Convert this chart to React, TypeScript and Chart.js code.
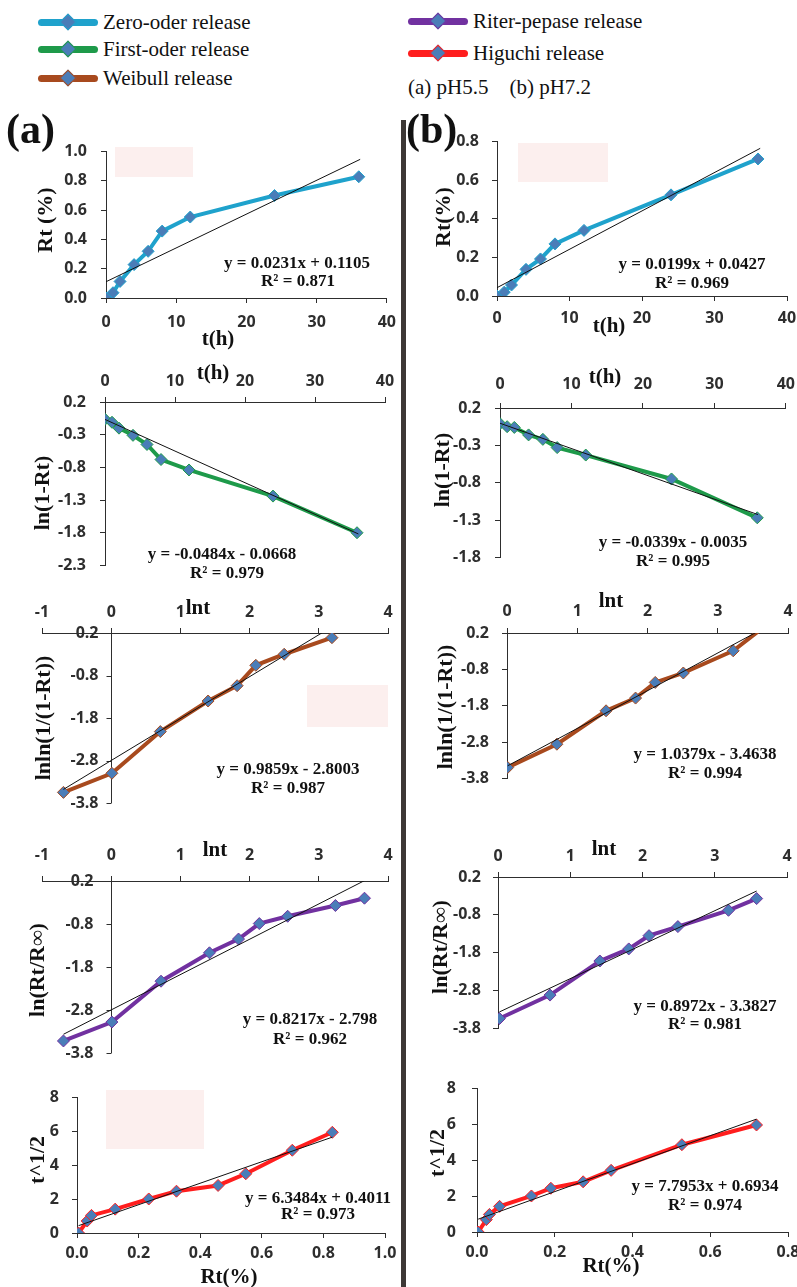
import React, { useEffect, useRef } from 'react';
import { Chart, registerables } from 'chart.js';

Chart.register(...registerables);

const SERIF = '"Liberation Serif", "Times New Roman", serif';
const TICK_FONT = '"Open Sans", "Liberation Sans", sans-serif';

// ---------------- data ----------------
const hours = [0, 1, 2, 4, 6, 8, 12, 24, 36];
const zeroReleaseA = [0, 0.036, 0.113, 0.228, 0.319, 0.457, 0.553, 0.7, 0.828];
const zeroReleaseB = [0, 0.02, 0.057, 0.138, 0.192, 0.27, 0.34, 0.524, 0.71];
const firstOrderA = [-0.064, -0.11, -0.2, -0.31, -0.45, -0.68, -0.84, -1.24, -1.8];
const firstOrderB = [-0.01, -0.05, -0.06, -0.16, -0.22, -0.33, -0.43, -0.75, -1.27];

const weibullLntA = [-0.69, 0.01, 0.71, 1.4, 1.82, 2.09, 2.5, 3.19];
const weibullA = [-3.55, -3.1, -2.12, -1.4, -1.04, -0.56, -0.3, 0.09];
const weibullLntB = [0.01, 0.71, 1.41, 1.83, 2.11, 2.51, 3.22, 3.58];
const weibullB = [-3.5, -2.86, -1.94, -1.59, -1.16, -0.9, -0.29, 0.25];
const weibullRadiusB = [6, 6, 6, 6, 6, 6, 6, 0];

const riterLntA = [-0.69, 0.01, 0.72, 1.42, 1.84, 2.14, 2.55, 3.24, 3.66];
const riterA = [-3.52, -3.08, -2.13, -1.47, -1.15, -0.79, -0.62, -0.37, -0.2];
const riterLntB = [0.02, 0.72, 1.41, 1.81, 2.09, 2.49, 3.19, 3.58];
const riterB = [-3.54, -2.92, -2.02, -1.7, -1.35, -1.11, -0.68, -0.37];

const higuchiRtA = [0.005, 0.033, 0.047, 0.124, 0.233, 0.323, 0.458, 0.548, 0.699, 0.829];
const higuchiA = [0, 0.71, 1.04, 1.41, 2.01, 2.47, 2.81, 3.5, 4.89, 5.95];
const higuchiRtB = [0.003, 0.024, 0.032, 0.058, 0.14, 0.19, 0.273, 0.345, 0.527, 0.719];
const higuchiB = [0, 0.69, 0.98, 1.43, 2.01, 2.44, 2.8, 3.44, 4.87, 5.97];

// linear trend lines (end points)
const trendZeroAX = [0, 36.2];
const trendZeroAY = [0.111, 0.947];
const trendZeroBX = [0, 36.3];
const trendZeroBY = [0.043, 0.765];
const trendFirstAX = [0, 36.2];
const trendFirstAY = [-0.067, -1.819];
const trendFirstBX = [0, 36.1];
const trendFirstBY = [-0.004, -1.227];
const trendWeibullAX = [-0.69, 3.58];
const trendWeibullAY = [-3.48, 0.73];
const trendWeibullBX = [0.01, 3.58];
const trendWeibullBY = [-3.453, 0.252];
const trendRiterAX = [-0.69, 3.66];
const trendRiterAY = [-3.365, 0.209];
const trendRiterBX = [0.02, 3.58];
const trendRiterBY = [-3.365, -0.171];
const trendHiguchiAX = [0.005, 0.829];
const trendHiguchiAY = [0.433, 5.664];
const trendHiguchiBX = [0.003, 0.719];
const trendHiguchiBY = [0.717, 6.298];

// tick labels
const ticksTime = [0, 10, 20, 30, 40];
const ticksRtA = [0, 0.2, 0.4, 0.6, 0.8, 1.0];
const ticksRtB = [0, 0.2, 0.4, 0.6, 0.8];
const ticksFirstA = [-2.3, -1.8, -1.3, -0.8, -0.3, 0.2];
const ticksFirstB = [-1.8, -1.3, -0.8, -0.3, 0.2];
const ticksLnY = [-3.8, -2.8, -1.8, -0.8, 0.2];
const ticksLntA = [-1, 0, 1, 2, 3, 4];
const ticksLntB = [0, 1, 2, 3, 4];
const ticksHigY = [0, 2, 4, 6, 8];
const ticksHigXA = [0, 0.2, 0.4, 0.6, 0.8, 1.0];
const ticksHigXB = [0, 0.2, 0.4, 0.6, 0.8];

const COLORS = {
  zero: '#1FA2CC',
  first: '#1E9A4A',
  weibull: '#A84A1E',
  riter: '#7131A0',
  higuchi: '#FF1E1E',
};
const MARKER_FILL = '#4A7DB8';

type Spec = {
  area: [number, number, number, number];
  xs: number[];
  ys: number[];
  radii?: number[];
  tx: number[];
  ty: number[];
  color: string;
  xTicks: number[];
  yTicks: number[];
  xDec: number;
  yDec: number;
  xTop: boolean;
  xPad: number;
  yGap: number;
  cross: boolean;
};

const specs: Spec[] = [
  { area: [106, 142, 388, 298], xs: hours, ys: zeroReleaseA, tx: trendZeroAX, ty: trendZeroAY, color: COLORS.zero,
    xTicks: ticksTime, yTicks: ticksRtA, xDec: 0, yDec: 1, xTop: false, xPad: 10, yGap: 19, cross: false },
  { area: [105, 402, 385, 575], xs: hours, ys: firstOrderA, tx: trendFirstAX, ty: trendFirstAY, color: COLORS.first,
    xTicks: ticksTime, yTicks: ticksFirstA, xDec: 0, yDec: 1, xTop: true, xPad: 6, yGap: 19, cross: false },
  { area: [42, 633, 388, 803], xs: weibullLntA, ys: weibullA, tx: trendWeibullAX, ty: trendWeibullAY, color: COLORS.weibull,
    xTicks: ticksLntA, yTicks: ticksLnY, xDec: 0, yDec: 1, xTop: true, xPad: 6, yGap: 13, cross: true },
  { area: [42, 881, 388, 1053], xs: riterLntA, ys: riterA, tx: trendRiterAX, ty: trendRiterAY, color: COLORS.riter,
    xTicks: ticksLntA, yTicks: ticksLnY, xDec: 0, yDec: 1, xTop: true, xPad: 11, yGap: 18, cross: true },
  { area: [77, 1089, 385, 1233], xs: higuchiRtA, ys: higuchiA, tx: trendHiguchiAX, ty: trendHiguchiAY, color: COLORS.higuchi,
    xTicks: ticksHigXA, yTicks: ticksHigY, xDec: 1, yDec: 0, xTop: false, xPad: 6, yGap: 18, cross: false },
  { area: [497, 133, 787, 296], xs: hours, ys: zeroReleaseB, tx: trendZeroBX, ty: trendZeroBY, color: COLORS.zero,
    xTicks: ticksTime, yTicks: ticksRtB, xDec: 0, yDec: 1, xTop: false, xPad: 8, yGap: 18, cross: false },
  { area: [500, 408, 786, 567], xs: hours, ys: firstOrderB, tx: trendFirstBX, ty: trendFirstBY, color: COLORS.first,
    xTicks: ticksTime, yTicks: ticksFirstB, xDec: 0, yDec: 1, xTop: true, xPad: 9, yGap: 19, cross: false },
  { area: [507, 633, 788, 787], xs: weibullLntB, ys: weibullB, radii: weibullRadiusB, tx: trendWeibullBX, ty: trendWeibullBY, color: COLORS.weibull,
    xTicks: ticksLntB, yTicks: ticksLnY, xDec: 0, yDec: 1, xTop: true, xPad: 7, yGap: 18, cross: false },
  { area: [498, 877, 787, 1036], xs: riterLntB, ys: riterB, tx: trendRiterBX, ty: trendRiterBY, color: COLORS.riter,
    xTicks: ticksLntB, yTicks: ticksLnY, xDec: 0, yDec: 1, xTop: true, xPad: 6, yGap: 17, cross: false },
  { area: [477, 1077, 788, 1232], xs: higuchiRtB, ys: higuchiB, tx: trendHiguchiBX, ty: trendHiguchiBY, color: COLORS.higuchi,
    xTicks: ticksHigXB, yTicks: ticksHigY, xDec: 1, yDec: 0, xTop: false, xPad: 6, yGap: 21, cross: false },
];

const TICK_SIZE = 16;
const TICK_LEN = 5;
const AXIS_COLOR = '#2e2e2e';

function Panel({ spec }: { spec: Spec }) {
  const ref = useRef<HTMLCanvasElement>(null);
  const [L, T, R, B] = spec.area;
  const yW = spec.cross ? 0 : 70;
  const padL = spec.cross ? 24 : 0;
  const padR = 18;
  const padO = 14;
  const xH = 44;
  const left = L - yW - padL;
  const top = spec.xTop ? T - xH : T - padO;
  const width = R + padR - left;
  const height = (spec.xTop ? B + padO : B + xH) - top;

  useEffect(() => {
    const canvas = ref.current;
    if (!canvas) return;
    const xMin = spec.xTicks[0];
    const xMax = spec.xTicks[spec.xTicks.length - 1];
    const yMin = spec.yTicks[0];
    const yMax = spec.yTicks[spec.yTicks.length - 1];
    const tickFont = { family: TICK_FONT, size: TICK_SIZE, weight: 'bold' as const };

    const crossPlugin = {
      id: 'crossYAxis',
      beforeDatasetsDraw(chart: any) {
        if (!spec.cross) return;
        const { ctx, chartArea } = chart;
        const xs = chart.scales.x;
        const ys = chart.scales.y;
        const x0 = Math.round(xs.getPixelForValue(0)) + 0.5;
        ctx.save();
        ctx.strokeStyle = AXIS_COLOR;
        ctx.lineWidth = 1;
        ctx.beginPath();
        ctx.moveTo(x0, chartArea.top);
        ctx.lineTo(x0, chartArea.bottom);
        for (const v of spec.yTicks) {
          const py = Math.round(ys.getPixelForValue(v)) + 0.5;
          ctx.moveTo(x0 - TICK_LEN, py);
          ctx.lineTo(x0, py);
        }
        ctx.stroke();
        ctx.fillStyle = AXIS_COLOR;
        ctx.font = `bold ${TICK_SIZE}px ${TICK_FONT}`;
        ctx.textAlign = 'right';
        ctx.textBaseline = 'middle';
        for (const v of spec.yTicks) {
          ctx.fillText(v.toFixed(spec.yDec), x0 - spec.yGap, ys.getPixelForValue(v));
        }
        ctx.restore();
      },
    };

    const chart = new Chart(canvas, {
      type: 'scatter',
      data: {
        datasets: [
          {
            label: 'trend',
            data: spec.tx.map((x, i) => ({ x, y: spec.ty[i] })),
            showLine: true,
            borderColor: '#111111',
            borderWidth: 1,
            pointRadius: 0,
            clip: 0,
          } as any,
          {
            label: 'data',
            data: spec.xs.map((x, i) => ({ x, y: spec.ys[i] })),
            showLine: true,
            borderColor: spec.color,
            borderWidth: 4,
            tension: 0,
            pointStyle: 'rectRot',
            pointRadius: spec.radii ?? 6,
            pointBackgroundColor: MARKER_FILL,
            pointBorderColor: spec.color,
            pointBorderWidth: 1,
          } as any,
        ],
      },
      options: {
        responsive: false,
        animation: false,
        devicePixelRatio: 1,
        events: [],
        layout: {
          padding: {
            left: padL,
            right: padR,
            top: spec.xTop ? 0 : padO,
            bottom: spec.xTop ? padO : 0,
          },
        },
        plugins: { legend: { display: false }, tooltip: { enabled: false } },
        scales: {
          x: {
            type: 'linear',
            position: spec.xTop ? 'top' : 'bottom',
            min: xMin,
            max: xMax,
            afterBuildTicks: (s: any) => {
              s.ticks = spec.xTicks.map((v) => ({ value: v }));
            },
            afterFit: (s: any) => {
              s.height = xH;
            },
            ticks: {
              font: tickFont,
              color: AXIS_COLOR,
              padding: spec.xPad,
              maxRotation: 0,
              autoSkip: false,
              callback: (v: any) => Number(v).toFixed(spec.xDec),
            },
            grid: { drawOnChartArea: false, drawTicks: true, tickLength: TICK_LEN, color: AXIS_COLOR },
            border: { display: true, color: AXIS_COLOR, width: 1 },
          },
          y: {
            type: 'linear',
            display: !spec.cross,
            min: yMin,
            max: yMax,
            afterBuildTicks: (s: any) => {
              s.ticks = spec.yTicks.map((v) => ({ value: v }));
            },
            afterFit: (s: any) => {
              s.width = yW;
            },
            ticks: {
              font: tickFont,
              color: AXIS_COLOR,
              padding: spec.yGap - TICK_LEN,
              autoSkip: false,
              callback: (v: any) => Number(v).toFixed(spec.yDec),
            },
            grid: { drawOnChartArea: false, drawTicks: true, tickLength: TICK_LEN, color: AXIS_COLOR },
            border: { display: true, color: AXIS_COLOR, width: 1 },
          },
        },
      } as any,
      plugins: [crossPlugin],
    });
    return () => chart.destroy();
  }, []);

  return (
    <canvas
      ref={ref}
      width={width}
      height={height}
      style={{ position: 'absolute', left, top, width, height }}
    />
  );
}

type Txt = { t: string; x: number; y: number; rot?: boolean };

const axisTitles: Txt[] = [
  { t: 'Rt (%)', x: 45, y: 220, rot: true },
  { t: 't(h)', x: 218, y: 338 },
  { t: 't(h)', x: 213, y: 372 },
  { t: 'ln(1-Rt)', x: 42, y: 493, rot: true },
  { t: 'lnt', x: 198, y: 607 },
  { t: 'lnln(1/(1-Rt))', x: 43, y: 718, rot: true },
  { t: 'lnt', x: 215, y: 849 },
  { t: 'ln(Rt/R\u221E)', x: 37, y: 970, rot: true },
  { t: 't^1/2', x: 37, y: 1160, rot: true },
  { t: 'Rt(%)', x: 229, y: 1276 },
  { t: 'Rt(%)', x: 443, y: 217, rot: true },
  { t: 't(h)', x: 609, y: 325 },
  { t: 't(h)', x: 605, y: 376 },
  { t: 'ln(1-Rt)', x: 442, y: 470, rot: true },
  { t: 'lnt', x: 611, y: 600 },
  { t: 'lnln(1/(1-Rt))', x: 445, y: 707, rot: true },
  { t: 'lnt', x: 604, y: 848 },
  { t: 'ln(Rt/R\u221E)', x: 440, y: 947, rot: true },
  { t: 'Rt(%)', x: 611, y: 1265 },
  { t: 't^1/2', x: 437, y: 1153, rot: true },
];

const equations: Txt[] = [
  { t: 'y = 0.0231x + 0.1105', x: 297, y: 262 },
  { t: 'R\u00B2 = 0.871', x: 298, y: 280 },
  { t: 'y = -0.0484x - 0.0668', x: 222, y: 553 },
  { t: 'R\u00B2 = 0.979', x: 227, y: 572 },
  { t: 'y = 0.9859x - 2.8003', x: 288, y: 768 },
  { t: 'R\u00B2 = 0.987', x: 288, y: 787 },
  { t: 'y = 0.8217x - 2.798', x: 310, y: 1018 },
  { t: 'R\u00B2 = 0.962', x: 310, y: 1038 },
  { t: 'y = 6.3484x + 0.4011', x: 318, y: 1197 },
  { t: 'R\u00B2 = 0.973', x: 318, y: 1213 },
  { t: 'y = 0.0199x + 0.0427', x: 692, y: 263 },
  { t: 'R\u00B2 = 0.969', x: 692, y: 282 },
  { t: 'y = -0.0339x - 0.0035', x: 673, y: 541 },
  { t: 'R\u00B2 = 0.995', x: 673, y: 560 },
  { t: 'y = 1.0379x - 3.4638', x: 705, y: 753 },
  { t: 'R\u00B2 = 0.994', x: 705, y: 772 },
  { t: 'y = 0.8972x - 3.3827', x: 705, y: 1005 },
  { t: 'R\u00B2 = 0.981', x: 705, y: 1023 },
  { t: 'y = 7.7953x + 0.6934', x: 705, y: 1185 },
  { t: 'R\u00B2 = 0.974', x: 705, y: 1204 },
];

const legendItems = [
  { label: 'Zero-oder release', color: COLORS.zero, x: 38, y: 22 },
  { label: 'First-oder release', color: COLORS.first, x: 38, y: 49 },
  { label: 'Weibull release', color: COLORS.weibull, x: 38, y: 78 },
  { label: 'Riter-pepase release', color: COLORS.riter, x: 408, y: 21 },
  { label: 'Higuchi release', color: COLORS.higuchi, x: 408, y: 53 },
];

const pinkBoxes = [
  [115, 147, 78, 30],
  [518, 143, 90, 39],
  [307, 685, 81, 42],
  [106, 1090, 98, 59],
];

function Label({ item, size }: { item: Txt; size: number }) {
  return (
    <div
      style={{
        position: 'absolute',
        left: item.x,
        top: item.y,
        transform: `translate(-50%, -50%)${item.rot ? ' rotate(-90deg)' : ''}`,
        fontFamily: SERIF,
        fontWeight: 'bold',
        fontSize: size,
        lineHeight: 1,
        whiteSpace: 'nowrap',
        color: '#111',
      }}
    >
      {item.t}
    </div>
  );
}

export default function App() {
  return (
    <div
      style={{
        position: 'absolute',
        left: 0,
        top: 0,
        width: 797,
        height: 1287,
        overflow: 'hidden',
        background: '#ffffff',
      }}
    >
      {pinkBoxes.map((b, i) => (
        <div
          key={'p' + i}
          style={{ position: 'absolute', left: b[0], top: b[1], width: b[2], height: b[3], background: '#FCEFEE' }}
        />
      ))}
      <div style={{ position: 'absolute', left: 401, top: 120, width: 5, height: 1167, background: '#3d3836' }} />
      {specs.map((s, i) => (
        <Panel key={i} spec={s} />
      ))}
      {legendItems.map((it, i) => (
        <React.Fragment key={'l' + i}>
          <div
            style={{
              position: 'absolute',
              left: it.x,
              top: it.y - 3.5,
              width: 60,
              height: 7,
              borderRadius: 4,
              background: it.color,
            }}
          />
          <div
            style={{
              position: 'absolute',
              left: it.x + 30 - 6,
              top: it.y - 6,
              width: 10,
              height: 10,
              transform: 'rotate(45deg)',
              background: MARKER_FILL,
              border: `1px solid ${it.color}`,
            }}
          />
          <div
            style={{
              position: 'absolute',
              left: it.x + 65,
              top: it.y,
              transform: 'translateY(-50%)',
              fontFamily: SERIF,
              fontSize: 21,
              lineHeight: 1,
              whiteSpace: 'nowrap',
              color: '#111',
            }}
          >
            {it.label}
          </div>
        </React.Fragment>
      ))}
      <div
        style={{
          position: 'absolute',
          left: 408,
          top: 87,
          transform: 'translateY(-50%)',
          fontFamily: SERIF,
          fontSize: 21,
          lineHeight: 1,
          whiteSpace: 'pre',
          color: '#111',
        }}
      >
        {'(a) pH5.5    (b) pH7.2'}
      </div>
      <div
        style={{
          position: 'absolute',
          left: 6,
          top: 129,
          transform: 'translateY(-50%)',
          fontFamily: SERIF,
          fontWeight: 'bold',
          fontSize: 42,
          lineHeight: 1,
          color: '#111',
        }}
      >
        (a)
      </div>
      <div
        style={{
          position: 'absolute',
          left: 406,
          top: 129,
          transform: 'translateY(-50%)',
          fontFamily: SERIF,
          fontWeight: 'bold',
          fontSize: 42,
          lineHeight: 1,
          color: '#111',
        }}
      >
        (b)
      </div>
      {axisTitles.map((t, i) => (
        <Label key={'t' + i} item={t} size={t.rot ? 22 : 21} />
      ))}
      {equations.map((t, i) => (
        <Label key={'e' + i} item={t} size={17} />
      ))}
    </div>
  );
}
